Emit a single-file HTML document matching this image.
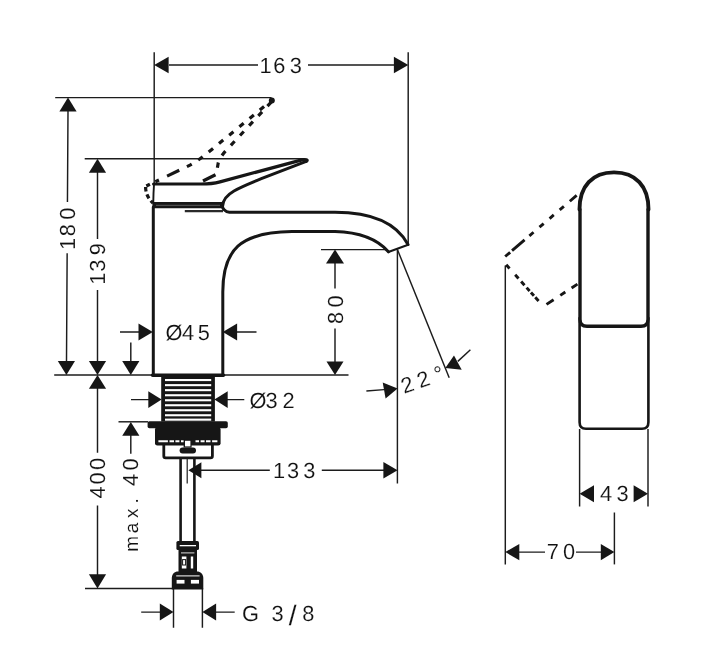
<!DOCTYPE html>
<html><head><meta charset="utf-8"><title>Drawing</title>
<style>
html,body{margin:0;padding:0;background:#fff;}
body{width:727px;height:661px;overflow:hidden;}
svg{display:block;will-change:transform;}
.t{stroke:#1c1c1c;stroke-width:1.45;fill:none;}
.k{stroke:#161616;stroke-width:3;fill:none;stroke-linecap:round;stroke-linejoin:round;}
.m{stroke:#161616;stroke-width:1.8;fill:none;stroke-linecap:round;stroke-linejoin:round;}
.d{stroke:#161616;stroke-width:2.6;fill:none;}
.a{fill:#161616;stroke:none;}
.b{fill:#161616;stroke:none;}
text{text-rendering:geometricPrecision;font-family:"Liberation Sans",sans-serif;font-size:21.8px;fill:#111;stroke:#fff;stroke-width:0.12px;}
</style></head><body>
<svg width="727" height="661" viewBox="0 0 727 661">
<rect width="727" height="661" fill="#fff"/>

<!-- ===== extension + dimension thin lines (front view) ===== -->
<g class="t">
<path d="M154.2 52.3V183"/>
<path d="M408.2 52.3V244"/>
<path d="M169 65H258M308 65H394"/>
<path d="M55.2 97.6H271.5"/>
<path d="M84.7 158.8H304.6"/>
<path d="M68 111L67.45 202M67.15 253.3L66.5 362"/>
<path d="M97.5 172V239M97.5 290V362"/>
<path d="M54.2 375H348.5" style="stroke-width:1.5"/>
<path d="M97.5 388V452.8M97.5 505.6V575"/>
<path d="M85 588.5H173"/>
<path d="M120 331.9H139M237 331.9H256.5"/>
<path d="M130.8 342.5V362"/>
<path d="M131 399.6H149M227 399.6H244.3"/>
<path d="M118.5 421.8H148"/>
<path d="M130.8 435V453.7"/>
<path d="M321 249.6H386"/>
<path d="M335 263V288.5M335 328.5V362"/>
<path d="M397.4 249.5V483.5"/>
<path d="M397.4 249.5L449.2 377.8"/>
<path d="M201 470.2H269.8M321.8 470.2H384"/>
<path d="M173.5 588V627.7M202.4 588V627.7"/>
<path d="M141.2 612.1H160M216 612.1H234.7"/>
<path d="M366.4 391L384 389.6"/>
<path d="M457.8 361.4L470.4 349.8"/>
</g>

<!-- arrows front view -->
<g class="a">
<path d="M154.2 65l14.4-8.2v16.4z"/>
<path d="M408.3 65l-14.4-8.2v16.4z"/>
<path d="M68 97.6l-8.6 14h17.2z"/>
<path d="M97.5 158.8l-8.6 14h17.2z"/>
<path d="M66.4 375l-8.6-14h17.2z"/>
<path d="M97.5 375l-8.6-14h17.2z"/>
<path d="M130.8 375l-8.6-14h17.2z"/>
<path d="M97.5 375l-8.6 13.8h17.2z"/>
<path d="M97.5 588.5l-8.6-14.2h17.2z"/>
<path d="M152.8 331.9l-14.3-8.5v17z"/>
<path d="M222.8 331.9l14.3-8.5v17z"/>
<path d="M161.6 399.6l-13.3-8.4v16.8z"/>
<path d="M214.4 399.6l13.3-8.4v16.8z"/>
<path d="M130.8 421.9l-8.6 13.8h17.2z"/>
<path d="M335 249.6l-9 13.8h18z"/>
<path d="M335 375l-8.5-13.5h17z"/>
<path d="M188.4 470.2l13-8v16z"/>
<path d="M397.6 470.3l-14.2-8.3v16.6z"/>
<path d="M173.5 612.1l-13.7-8.5v17z"/>
<path d="M202.4 612.1l13.7-8.5v17z"/>
<path d="M397.6 388.4L382.7 382.6L385.6 398.6z"/>
<path d="M445.3 368.1L454 355.6L461.7 369.7z"/>
</g>

<!-- ===== faucet body front view ===== -->
<g class="k">
<!-- body left edge and bottom -->
<path d="M153.3 207V375.6H222.8V292C222.8 250 240 232 292 231.6H335C362 232.3 378 240 388.4 251.8"/>
<path d="M388.4 252L408.2 244.8" style="stroke-width:2.1"/>
<path d="M408 244.5C398 226 376 212.3 335 212.3H229.4C224.6 211.9 222.5 208 222.5 206.4C222.8 199.5 227 195 234 191C240 187.5 250 183.3 261.3 178.7L306.2 161.4"/>
<!-- handle top edge -->
<path d="M153.6 184H199C209 184.2 214 183.5 220 181.9L301 160.1C306 158.8 308.8 160 306.2 161.4" style="stroke-width:3.2"/>
<path d="M154 184.5Q153.4 193 153.3 202" style="stroke-width:1.9"/>
</g>
<path class="k" d="M152.4 375.2H223.6" style="stroke-width:3.2"/>
<!-- thick band -->
<rect x="152.4" y="202" width="70.6" height="6.2" rx="1.2" class="b"/>
<path d="M156 205.3H220" stroke="#5a5a5a" stroke-width="1" fill="none"/>
<path class="t" d="M184.8 211.1H223" style="stroke-width:2.1;stroke:#2a2a2a"/>

<!-- dashed tilted handle -->
<g class="d" style="stroke-width:3.2">
<path d="M146.3 186L190 165.2Q200 159.5 211.2 150L271.5 100.5" stroke-dasharray="4 6 4 9 13.5 8.5 5.5 7.7 5.5 7.7 5.5 7.7 5.5 7.7 5.5 7.7 5.5 7.7 5.5 7.7 5.5 7.7 5.5 7.7 5.5 7.7"/>
<path d="M203 181L216.3 174.3L218.2 163Q220 157 226 150.5L271.5 101.8" stroke-dasharray="14 7.5 5.5 7.9 5.5 7.9 5.5 7.9 5.5 7.9 5.5 7.9 5.5 7.9 5.5 7.9 5.5 7.9 5.5 7.9 5.5 7.9 5.5 7.9 5.5 7.9"/>
<path d="M145.6 187Q145.5 196 153 203" stroke-dasharray="4.5 3"/>
</g>
<circle cx="271.8" cy="100.6" r="3" class="b"/>

<!-- threaded shank -->
<rect x="161.2" y="376" width="53.7" height="45.6" class="b"/>
<g fill="#fff"><rect x="165" y="379.0" width="46.2" height="2.1"/><rect x="165" y="384.1" width="46.2" height="2.1"/><rect x="165" y="389.1" width="46.2" height="2.1"/><rect x="165" y="394.2" width="46.2" height="2.1"/><rect x="165" y="399.2" width="46.2" height="2.1"/><rect x="165" y="404.2" width="46.2" height="2.1"/><rect x="165" y="409.2" width="46.2" height="2.1"/><rect x="165" y="414.2" width="46.2" height="2.1"/><rect x="165" y="418.6" width="46.2" height="2.1"/></g>
<!-- flange -->
<rect x="147.6" y="421.2" width="80.2" height="7" rx="1.8" class="b"/>
<!-- bracket -->
<rect x="155" y="427" width="65.6" height="18.6" rx="2.4" class="b"/>
<path d="M158.4 441.3H217.4" stroke="#fff" stroke-width="1.9" stroke-dasharray="9.5 1.6 4.5 1.4 4 1.6 3.5 11 3.5 1.6 4 1.4 4.5 1.6 9.5 9" fill="none"/>
<path class="k" d="M163.8 445V456Q163.8 457.8 165.6 457.8H210.6Q212.4 457.8 212.4 456V445" style="stroke-width:2.8"/>
<rect x="183.6" y="439.6" width="8" height="8" class="b"/>
<rect x="185" y="440.8" width="5.4" height="5.6" fill="#fff"/>
<rect x="179.6" y="447.4" width="16.4" height="6" rx="3" class="b"/>

<!-- pipe -->
<path class="k" d="M180.6 459V541M194.4 459V541" style="stroke-width:2.6;stroke-linecap:butt"/>
<path class="t" d="M187.2 458V483.5" style="stroke-width:1.2"/>
<!-- connector -->
<rect x="176.4" y="541" width="22.6" height="9" rx="1.6" class="b"/>
<rect x="179.7" y="545" width="16.3" height="1.3" fill="#fff"/>
<rect x="178.5" y="549" width="18.5" height="23" class="b"/>
<rect x="181" y="552.4" width="13.4" height="1" fill="#ddd"/>
<rect x="181.8" y="556.5" width="4.6" height="12" fill="#fff"/>
<rect x="190.8" y="556.5" width="2.4" height="12" fill="#fff"/>
<rect x="182.6" y="559.6" width="3" height="5.4" fill="none" stroke="#161616" stroke-width="1"/>
<path class="b" d="M171.8 589.4V578C171.8 574 174.5 571.4 178 571.4H197C200.5 571.4 203.3 574 203.3 578V589.4z"/>
<rect x="176.2" y="575.4" width="23.4" height="1" fill="#fff"/>
<rect x="176.6" y="579.9" width="7.9" height="3.7" fill="#fff"/>
<rect x="190.9" y="579.9" width="8.1" height="3.7" fill="#fff"/>

<!-- ===== side view ===== -->
<g class="t">
<path d="M505.3 265.5V564.4"/>
<path d="M579.6 429V506.5M648 429V506.5"/>
<path d="M614.4 512.5V564.4"/>
<path d="M519 552.1H545M576 552.1H601"/>
</g>
<g class="a">
<path d="M579.6 493.8l14.4-8.5v17z"/>
<path d="M648 493.8l-14.4-8.5v17z"/>
<path d="M505.3 552.1l14-8.2v16.4z"/>
<path d="M614.4 552.1l-13.6-8.2v16.4z"/>
</g>
<g class="k">
<path d="M579.5 209.5C579.5 186 592.5 172.4 614 172.4C635.5 172.4 648.5 186 648.5 209.5" style="stroke-width:3.9"/>
<path d="M580 209.5V319.3Q580 326.3 587 326.3H641Q648 326.3 648 319.3V209.5" style="stroke-width:3.4"/>
<path d="M579.6 318V422.3Q579.6 428.8 586 428.8H642Q648.4 428.8 648.4 422.3V318" style="stroke-width:2.6"/>
</g>
<g class="d" style="stroke-width:2.9">
<path d="M505.2 256.5L577.6 194.6" stroke-dasharray="6.5 2.5 16.5 6.3 5.5 7.8 5.5 7.8 5.5 7.8 5.5 7.8 9 50"/>
<path d="M506.2 264.7L543 306" stroke-dasharray="5 8.5 5 4 5 3.2 4.5 2 4.5 2 5 20"/>
<path d="M546.5 304.4L577.6 284" stroke-dasharray="8.5 8 6 7.5 7 20"/>
</g>

<!-- ===== text ===== -->
<g>
<text x="259.4 273.2 289.7" y="72.8" font-size="21.8">163</text>
<text x="165.6 182.0 197.8" y="339.8" font-size="21.8">Ø45</text>
<text x="249.4 265.5 282.4" y="407.6" font-size="21.8">Ø32</text>
<text x="273.1 286.9 303.3" y="477.5" font-size="21.8">133</text>
<text x="242.0 261.0 271.4 288.7 302.3" y="621.4" font-size="21.8">G 3<tspan font-size="28" dy="4">/</tspan><tspan dy="-4">8</tspan></text>
<text x="600.0 616.5" y="501.4" font-size="21.8">43</text>
<text x="546.7 562.9" y="559.4" font-size="21.8">70</text>
<text transform="translate(75 0) rotate(-90)" x="-250.0 -236.3 -219.7" y="0" font-size="21.8">180</text>
<text transform="translate(105.2 0) rotate(-90)" x="-284.8 -271.7 -255.3" y="0" font-size="21.8">139</text>
<text transform="translate(343 0) rotate(-90)" x="-324.1 -307.5" y="0" font-size="21.8">80</text>
<text transform="translate(105.2 0) rotate(-90)" x="-498.4 -484.5 -470.0" y="0" font-size="21.8">400</text>
<text transform="translate(138.4 0) rotate(-90)" x="-551.8 -533.3 -518.1 -503.6 -493.6 -486.0 -470.4" y="0" font-size="20.8"><tspan font-size="19">max.</tspan> 40</text>
<text transform="translate(403.9 393.8) rotate(-19)" x="0 17 35.4" y="0" font-size="21.8">22°</text>
</g>
</svg>
</body></html>
